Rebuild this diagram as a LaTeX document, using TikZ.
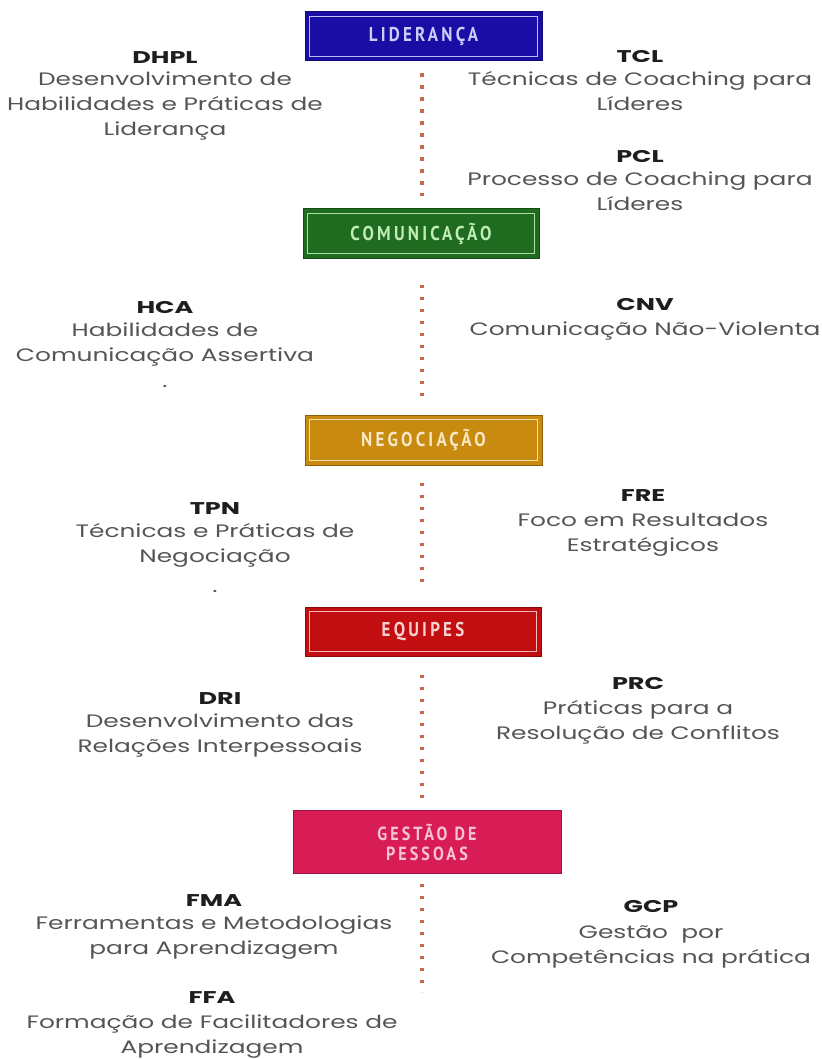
\documentclass[tikz,border=0pt]{standalone}
\usepackage{fontspec}
\setmainfont{Poppins}
\newfontfamily\bodyfont{Poppins}[FakeStretch=1.38]
\newfontfamily\headfont{Poppins}[FakeStretch=1.5]
\newfontfamily\boxfont{PT Sans}[FakeStretch=0.85,LetterSpace=16]
\definecolor{bodygray}{HTML}{555555}
\definecolor{headblack}{HTML}{1E1E1E}
\definecolor{dotcol}{HTML}{C8684A}
\definecolor{lidfill}{HTML}{1A0DA6}
\definecolor{lidline}{HTML}{B8C0F8}
\definecolor{lidtext}{HTML}{C8D0FA}
\definecolor{comfill}{HTML}{1F6B1F}
\definecolor{comline}{HTML}{A8E0A0}
\definecolor{comtext}{HTML}{C0ECB8}
\definecolor{negfill}{HTML}{C98A10}
\definecolor{negline}{HTML}{F2DCA8}
\definecolor{negtext}{HTML}{F8E8C4}
\definecolor{equfill}{HTML}{C20E10}
\definecolor{equline}{HTML}{F6B8B8}
\definecolor{equtext}{HTML}{FAD0D0}
\definecolor{gesfill}{HTML}{D81C55}
\definecolor{gestext}{HTML}{F8C4D2}
\newcommand{\hdtxt}[1]{{\headfont\bfseries\color{headblack}\fontsize{17}{25}\selectfont #1}}
\begin{document}
\begin{tikzpicture}[x=1pt,y=-1pt,
  catbox/.style={draw=#1fill!70!black, fill=#1fill, line width=1pt,
    text=#1text, font=\boxfont\bfseries\fontsize{20}{20}\selectfont,
    inner sep=0pt, align=center},
  innerframe/.style={draw=#1, line width=0.9pt},
  info/.style={align=center, anchor=base, text=bodygray, inner sep=0pt,
    font=\bodyfont\fontsize{18}{25}\selectfont},
  dots/.style={dotcol, line width=4.5pt, dash pattern=on 3.3pt off 8.7pt}
]
\useasboundingbox[fill=white] (0,0) rectangle (821,1059);

% category boxes
\node[catbox=lid, minimum width=237pt, minimum height=49pt] (lid) at (423.5,36.5) {LIDERANÇA};
\node[catbox=com, minimum width=236pt, minimum height=49pt] (com) at (421,233.5) {COMUNICAÇÃO};
\node[catbox=neg, minimum width=237pt, minimum height=50pt] (neg) at (423.5,440) {NEGOCIAÇÃO};
\node[catbox=equ, minimum width=236pt, minimum height=49pt] (equ) at (423,631.5) {EQUIPES};
\node[catbox=ges, minimum width=268pt, minimum height=63pt, font=\boxfont\bfseries\fontsize{19}{20}\selectfont] (ges) at (427,842) {GESTÃO DE\\PESSOAS};

\draw[innerframe=lidline] ([shift={(5pt,5pt)}]lid.south west) rectangle ([shift={(-5pt,-5pt)}]lid.north east);
\draw[innerframe=comline] ([shift={(5pt,5pt)}]com.south west) rectangle ([shift={(-5pt,-5pt)}]com.north east);
\draw[innerframe=negline] ([shift={(5pt,5pt)}]neg.south west) rectangle ([shift={(-5pt,-5pt)}]neg.north east);
\draw[innerframe=equline] ([shift={(5pt,5pt)}]equ.south west) rectangle ([shift={(-5pt,-5pt)}]equ.north east);

% dotted connectors
\coordinate (endc) at (422,992);
\coordinate (axis) at (422,0);
\draw[dots, shorten <=12pt, shorten >=12pt] (lid.south -| axis) -- (com.north -| axis);
\draw[dots, shorten <=26pt, shorten >=18pt] (com.south -| axis) -- (neg.north -| axis);
\draw[dots, shorten <=17pt, shorten >=25pt] (neg.south -| axis) -- (equ.north -| axis);
\draw[dots, shorten <=18pt, shorten >=12pt] (equ.south -| axis) -- (ges.north -| axis);
\draw[dots, shorten <=10pt] (ges.south -| axis) -- (endc);

% left column (anchor = baseline of the last line)
\node[info] (dhpl) at (165,136) {\hdtxt{DHPL}\\[-3pt]Desenvolvimento de\\Habilidades e Práticas de\\Liderança};
\node[info] (hca) at (165,387) {\hdtxt{HCA}\\[-2pt]Habilidades de\\Comunicação Assertiva\\[1pt].};
\node[info] (tpn) at (215,592) {\hdtxt{TPN}\\[-2pt]Técnicas e Práticas de\\Negociação\\[5pt].};
\node[info] (dri) at (220,752) {\hdtxt{DRI}\\[-2pt]Desenvolvimento das\\Relações Interpessoais};
\node[info] (fma) at (214,954) {\hdtxt{FMA}\\[-2pt]Ferramentas e Metodologias\\para Aprendizagem};
\node[info] (ffa) at (212,1053) {\hdtxt{FFA}\\[0pt]Formação de Facilitadores de\\[0pt]Aprendizagem};

% right column
\node[info] (tcl) at (640,111) {\hdtxt{TCL}\\[-2pt]Técnicas de Coaching para\\Líderes};
\node[info] (pcl) at (640,211) {\hdtxt{PCL}\\[-2pt]Processo de Coaching para\\Líderes};
\node[info] (cnv) at (645,335) {\hdtxt{CNV}\\[0pt]Comunicação Não-Violenta};
\node[info] (fre) at (643,551) {\hdtxt{FRE}\\[0pt]Foco em Resultados\\Estratégicos};
\node[info] (prc) at (638,739) {\hdtxt{PRC}\\[0pt]Práticas para a\\Resolução de Conflitos};
\node[info] (gcp) at (651,963) {\hdtxt{GCP}\\[1pt]Gestão\ \ por\\Competências na prática};
\end{tikzpicture}
\end{document}
